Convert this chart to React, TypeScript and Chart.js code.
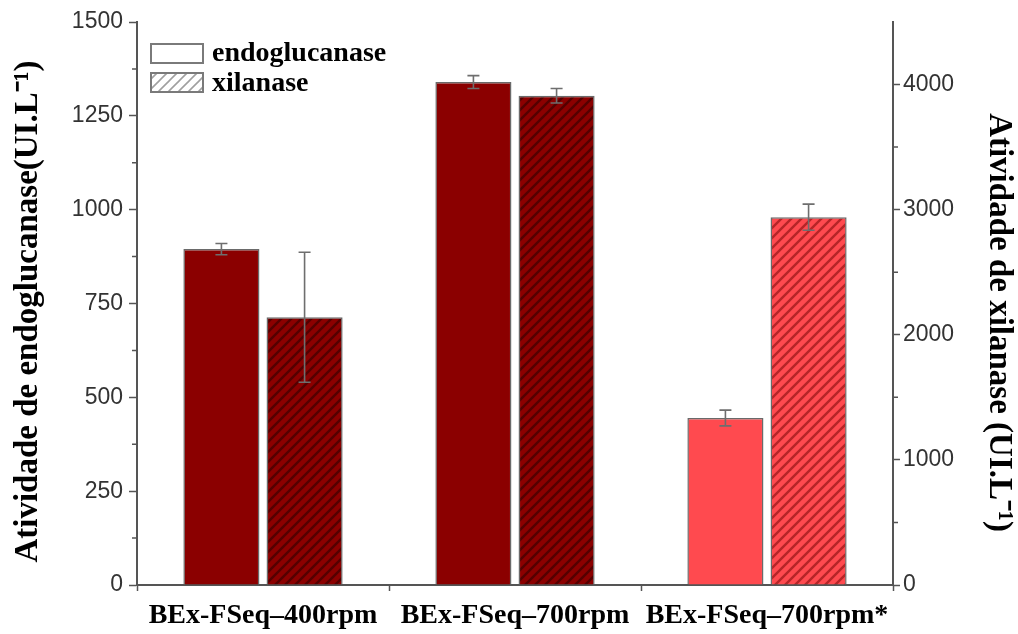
import React, { useEffect, useRef } from 'react';
import { Chart, registerables } from 'chart.js';

Chart.register(...registerables);

const categories = ['BEx-FSeq–400rpm', 'BEx-FSeq–700rpm', 'BEx-FSeq–700rpm*'];
const endoValues = [895, 1340, 445];
const endoErrors = [15, 17, 21];
const xilValues = [2140, 3910, 2940];
const xilErrors = [520, 58, 104];
const leftTicks = [0, 250, 500, 750, 1000, 1250, 1500];
const leftMinorTicks = [125, 375, 625, 875, 1125, 1375];
const rightTicks = [0, 1000, 2000, 3000, 4000];
const rightMinorTicks = [500, 1500, 2500, 3500];
const legendLabels = ['endoglucanase', 'xilanase'];
const leftTitle = 'Atividade de endoglucanase(UI.L⁻¹)';
const rightTitle = 'Atividade de xilanase (UI.L⁻¹)';

const DARK = '#8B0000';
const LIGHT = '#FF4A4F';
const AXIS = '#555555';
const SERIF = '"Liberation Serif", "Times New Roman", serif';
const SANS = '"Liberation Sans", Arial, sans-serif';

function makeHatch(base: string | null, stroke: string, lw: number): CanvasPattern | string {
  const s = 10;
  const c = document.createElement('canvas');
  c.width = s;
  c.height = s;
  const ctx = c.getContext('2d');
  if (!ctx) return base || '#fff';
  if (base) {
    ctx.fillStyle = base;
    ctx.fillRect(0, 0, s, s);
  }
  ctx.strokeStyle = stroke;
  ctx.lineWidth = lw;
  ctx.beginPath();
  ctx.moveTo(-2, s + 2);
  ctx.lineTo(s + 2, -2);
  ctx.moveTo(-2, 2);
  ctx.lineTo(2, -2);
  ctx.moveTo(s - 2, s + 2);
  ctx.lineTo(s + 2, s - 2);
  ctx.stroke();
  const p = ctx.createPattern(c, 'repeat');
  return p || base || '#fff';
}

export default function App() {
  const ref = useRef<HTMLCanvasElement | null>(null);

  useEffect(() => {
    document.body.style.margin = '0';
    const canvas = ref.current;
    if (!canvas) return;

    const hatchDark = makeHatch(DARK, 'rgba(30,0,0,0.5)', 2.4);
    const hatchLight = makeHatch(LIGHT, 'rgba(110,0,0,0.5)', 2.4);
    const hatchLegend = makeHatch('#ffffff', '#a0a0a0', 1.6);

    const errorBars = {
      id: 'errorBars',
      afterDatasetsDraw(chart: any) {
        const ctx = chart.ctx;
        const errs = [endoErrors, xilErrors];
        const vals = [endoValues, xilValues];
        ctx.save();
        ctx.strokeStyle = '#6e6e6e';
        ctx.lineWidth = 1.6;
        chart.data.datasets.forEach((ds: any, i: number) => {
          const meta = chart.getDatasetMeta(i);
          const scale = chart.scales[ds.yAxisID];
          meta.data.forEach((el: any, j: number) => {
            const v = vals[i][j];
            const e = errs[i][j];
            const yHi = scale.getPixelForValue(v + e);
            const yLo = scale.getPixelForValue(v - e);
            const x = el.x;
            ctx.beginPath();
            ctx.moveTo(x, yHi);
            ctx.lineTo(x, yLo);
            ctx.moveTo(x - 6, yHi);
            ctx.lineTo(x + 6, yHi);
            ctx.moveTo(x - 6, yLo);
            ctx.lineTo(x + 6, yLo);
            ctx.stroke();
          });
        });
        ctx.restore();
      },
    };

    const extras = {
      id: 'extras',
      afterDraw(chart: any) {
        const ctx = chart.ctx;
        const { left, right, top, bottom } = chart.chartArea;
        const yl = chart.scales.y;
        const yr = chart.scales.y2;
        ctx.save();
        ctx.strokeStyle = AXIS;
        ctx.lineWidth = 1.5;
        ctx.beginPath();
        leftMinorTicks.forEach((v) => {
          const y = yl.getPixelForValue(v);
          ctx.moveTo(left - 5, y);
          ctx.lineTo(left, y);
        });
        rightMinorTicks.forEach((v) => {
          const y = yr.getPixelForValue(v);
          ctx.moveTo(right, y);
          ctx.lineTo(right + 5, y);
        });
        ctx.stroke();

        // legend
        const bx = left + 14;
        const by = top + 22;
        const bw = 52;
        const bh = 19;
        const gap = 29;
        ctx.lineWidth = 2;
        ctx.strokeStyle = '#7a7a7a';
        ctx.fillStyle = '#ffffff';
        ctx.fillRect(bx, by, bw, bh);
        ctx.strokeRect(bx, by, bw, bh);
        ctx.fillStyle = hatchLegend as any;
        ctx.fillRect(bx, by + gap, bw, bh);
        ctx.strokeRect(bx, by + gap, bw, bh);
        ctx.fillStyle = '#000000';
        ctx.font = 'bold 28px ' + SERIF;
        ctx.textAlign = 'left';
        ctx.textBaseline = 'alphabetic';
        ctx.fillText(legendLabels[0], bx + bw + 9, by + bh - 2);
        ctx.fillText(legendLabels[1], bx + bw + 9, by + gap + bh - 1);

        // axis titles
        ctx.font = 'bold 33px ' + SERIF;
        ctx.textAlign = 'center';
        ctx.textBaseline = 'middle';
        ctx.save();
        ctx.translate(28, (top + bottom) / 2 + 8);
        ctx.rotate(-Math.PI / 2);
        ctx.fillText(leftTitle, 0, 0);
        ctx.restore();
        ctx.save();
        ctx.translate(999, (top + bottom) / 2 + 19);
        ctx.rotate(Math.PI / 2);
        ctx.fillText(rightTitle, 0, 0);
        ctx.restore();
        ctx.restore();
      },
    };

    const chart = new Chart(canvas, {
      type: 'bar',
      data: {
        labels: categories,
        datasets: [
          {
            label: legendLabels[0],
            data: endoValues,
            yAxisID: 'y',
            backgroundColor: [DARK, DARK, LIGHT],
            borderColor: '#6a6a6a',
            borderWidth: 1.5,
            categoryPercentage: 0.66,
            barPercentage: 0.915,
          },
          {
            label: legendLabels[1],
            data: xilValues,
            yAxisID: 'y2',
            backgroundColor: [hatchDark, hatchDark, hatchLight] as any,
            borderColor: '#6a6a6a',
            borderWidth: 1.5,
            categoryPercentage: 0.66,
            barPercentage: 0.915,
          },
        ],
      },
      options: {
        responsive: false,
        animation: false,
        layout: { padding: { top: 22, left: 0, right: 0, bottom: 0 } },
        plugins: {
          legend: { display: false },
          tooltip: { enabled: false },
        },
        scales: {
          x: {
            type: 'category',
            offset: true,
            grid: {
              display: true,
              drawOnChartArea: false,
              drawTicks: true,
              tickLength: 6,
              tickColor: AXIS,
              tickWidth: 1.5,
              offset: true,
            },
            border: { display: true, color: AXIS, width: 2 },
            ticks: {
              color: '#000',
              padding: 8,
              font: { family: SERIF, size: 28, weight: 'bold' },
              maxRotation: 0,
              autoSkip: false,
            },
            afterFit: (s: any) => {
              s.height = 49;
            },
          },
          y: {
            type: 'linear',
            position: 'left',
            min: 0,
            max: 1500,
            afterBuildTicks: (s: any) => {
              s.ticks = leftTicks.map((v) => ({ value: v }));
            },
            grid: {
              drawOnChartArea: false,
              drawTicks: true,
              tickLength: 8,
              tickColor: AXIS,
              tickWidth: 1.5,
            },
            border: { display: true, color: AXIS, width: 2 },
            ticks: {
              color: '#333',
              padding: 6,
              font: { family: SANS, size: 23 },
              callback: (v: any) => String(v),
            },
            afterFit: (s: any) => {
              s.width = 137;
            },
          },
          y2: {
            type: 'linear',
            position: 'right',
            min: 0,
            max: 4500,
            afterBuildTicks: (s: any) => {
              s.ticks = rightTicks.map((v) => ({ value: v }));
            },
            grid: {
              drawOnChartArea: false,
              drawTicks: true,
              tickLength: 7,
              tickColor: AXIS,
              tickWidth: 1.5,
            },
            border: { display: true, color: AXIS, width: 2 },
            ticks: {
              color: '#333',
              padding: 3,
              font: { family: SANS, size: 23 },
              callback: (v: any) => String(v),
            },
            afterFit: (s: any) => {
              s.width = 125;
            },
          },
        },
      } as any,
      plugins: [errorBars, extras],
    });

    return () => {
      chart.destroy();
    };
  }, []);

  return (
    <div style={{ width: 1018, height: 634, background: '#fff' }}>
      <canvas ref={ref} width={1018} height={634} style={{ display: 'block' }} />
    </div>
  );
}
